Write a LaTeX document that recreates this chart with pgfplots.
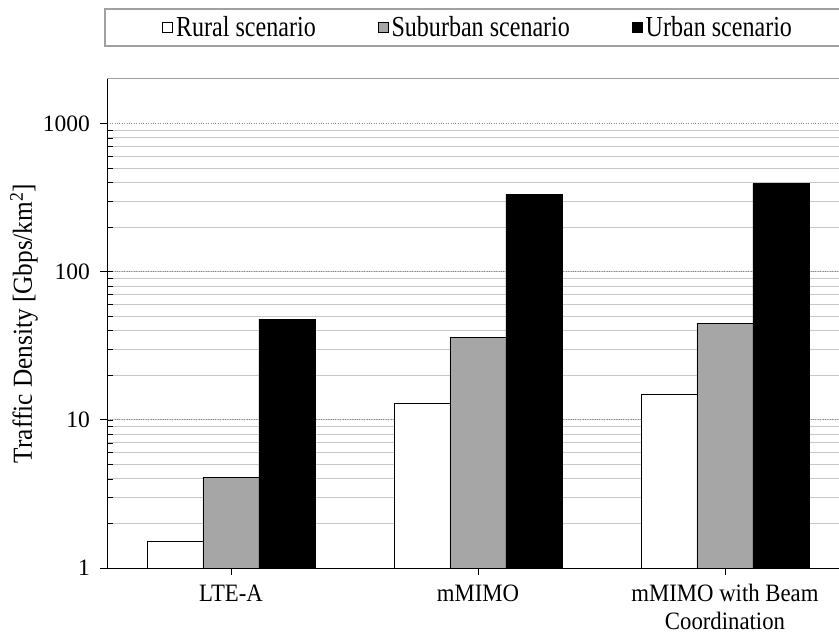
\documentclass[border=0pt]{standalone}
\usepackage{fontspec}
\setmainfont{Liberation Serif}
\newfontfamily\legfont[FakeStretch=0.83]{Liberation Serif}
\newfontfamily\labfont[FakeStretch=0.92]{Liberation Serif}
\newfontfamily\xfont[FakeStretch=0.91]{Liberation Serif}
\usepackage{pgfplots}
\pgfplotsset{compat=1.18}
\definecolor{barGray}{HTML}{A6A6A6}
\definecolor{gridMaj}{HTML}{8C8C8C}
\definecolor{gridMin}{HTML}{C8C8C8}
\definecolor{boxGray}{HTML}{A0A0A0}
\begin{document}
\begin{tikzpicture}
\useasboundingbox (-107.5pt,-67pt) rectangle (731.5pt,568pt);
\begin{axis}[
  at={(0pt,0pt)}, anchor=south west,
  scale only axis, width=741pt, height=489pt,
  ymode=log, ymin=1, ymax=2000,
  xmin=-0.5, xmax=2.5,
  axis lines*=left,
  axis line style={black, line width=0.9pt},
  ybar=0pt, bar width=56pt,
  xtick={0,1,2},
  xticklabels={LTE-A, mMIMO, {mMIMO with Beam\\Coordination}},
  xticklabel style={align=center, font=\xfont\fontsize{25}{28}\selectfont, yshift=-6pt},
  ytick={1,10,100,1000},
  yticklabels={1,10,100,1000},
  yticklabel style={font=\fontsize{23.5}{27}\selectfont, xshift=-7pt},
  /pgf/number format/assume math mode=true,
  tick align=outside,
  major tick length=7pt,
  minor tick length=6pt,
  tick style={black, line width=0.9pt},
  minor y tick style={xshift=6pt, black, line width=0.6pt},
  ymajorgrids, yminorgrids,
  major grid style={gridMaj, dotted, line width=0.9pt},
  minor grid style={gridMin, line width=0.9pt},
  ylabel={Traffic Density [Gbps/km\textsuperscript{2}]},
  ylabel style={at={(axis description cs:-0.1127,0.5)}, anchor=center, font=\labfont\fontsize{27.5}{30}\selectfont},
  legend columns=3,
  legend style={draw=none, fill=none, at={(axis description cs:0.5010,1.1053)}, anchor=center,
    font=\legfont\fontsize{29}{32}\selectfont,
    nodes={inner xsep=3pt},
    /tikz/every even column/.append style={column sep=59pt}},
  legend image code/.code={\draw[#1,draw=black,line width=0.7pt] (0pt,-5pt) rectangle (10pt,5pt);},
  clip=false,
]
\addplot[fill=white, draw=black, line width=0.7pt] coordinates {(0,1.52) (1,12.97) (2,14.9)};
\addplot[fill=barGray, draw=black, line width=0.7pt] coordinates {(0,4.11) (1,36.1) (2,44.9)};
\addplot[fill=black, draw=black, line width=0.7pt] coordinates {(0,47.8) (1,332) (2,394)};
\legend{Rural scenario, Suburban scenario, Urban scenario}
\draw[boxGray, line width=1pt] (rel axis cs:0,1) -- (rel axis cs:1,1);
\end{axis}
\draw[boxGray, line width=1.2pt] (-2.5pt,522pt) rectangle (800pt,559pt);
\end{tikzpicture}
\end{document}
